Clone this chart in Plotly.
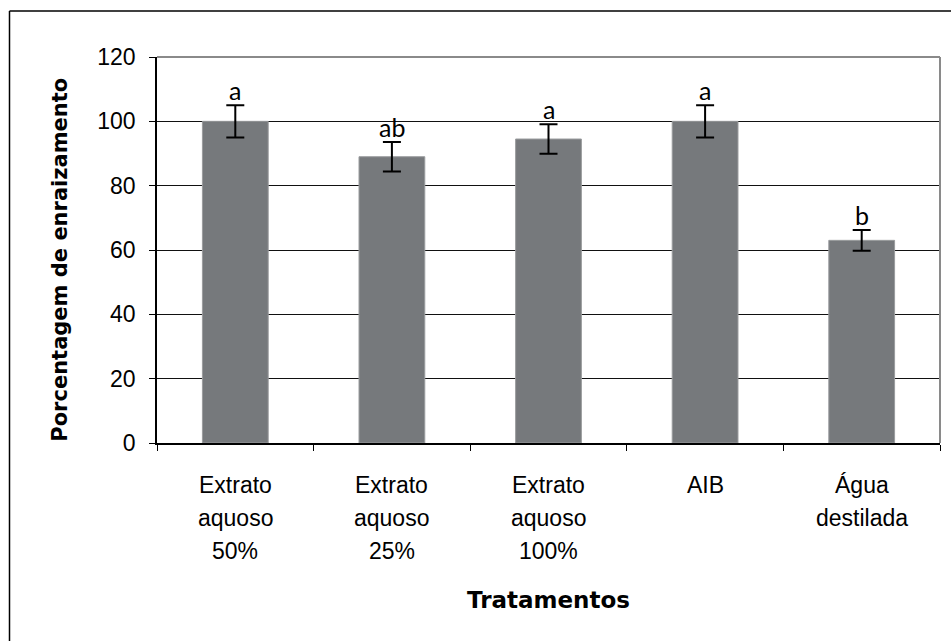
import plotly.graph_objects as go

# Rooting percentage per treatment, with standard error and significance letters
tratamentos = [
    ["Extrato", "aquoso", "50%"],
    ["Extrato", "aquoso", "25%"],
    ["Extrato", "aquoso", "100%"],
    ["AIB"],
    ["Água", "destilada"],
]
categorias = ["Extrato aquoso 50%", "Extrato aquoso 25%", "Extrato aquoso 100%", "AIB", "Água destilada"]
enraizamento = [100, 89, 94.5, 100, 63]
erro = [5, 4.6, 4.6, 5, 3.2]
letras = ["a", "ab", "a", "a", "b"]
y_ticks = [0, 20, 40, 60, 80, 100, 120]

W, H = 951, 641
L, R, T, B = 157, 11, 57, 198
pw, ph = W - L - R, H - T - B

def px_x(px):
    return (px - L) / pw

def px_y(py):
    return (H - B - py) / ph

fig = go.Figure()
fig.add_trace(go.Bar(
    x=categorias,
    y=enraizamento,
    marker=dict(color="#76797c", line=dict(color="#9a9c9e", width=1)),
    error_y=dict(type="data", array=erro, visible=True, color="black", thickness=2, width=9),
    showlegend=False,
))

annotations = []
# significance letters above the error bars
for c, v, e, s in zip(categorias, enraizamento, erro, letras):
    annotations.append(dict(
        x=c, y=v + e, xref="x", yref="y", text=s, showarrow=False,
        yanchor="bottom", yshift=-2,
        font=dict(family="Lato", size=25, color="black"),
    ))

# category labels, one annotation per line
line_shifts = [-27, -60, -93]
for c, lines in zip(categorias, tratamentos):
    for i, t in enumerate(lines):
        annotations.append(dict(
            x=c, y=0, xref="x", yref="paper", text=t, showarrow=False,
            yanchor="top", yshift=line_shifts[i],
            font=dict(family="Liberation Sans", size=23, color="black"),
        ))

annotations.append(dict(
    x=0.5, y=0, xref="paper", yref="paper", text="<b>Tratamentos</b>", showarrow=False,
    yanchor="top", yshift=-142,
    font=dict(family="DejaVu Sans", size=23, color="black"),
))
annotations.append(dict(
    x=px_x(59.7), y=px_y(260), xref="paper", yref="paper",
    text="<b>Porcentagem de enraizamento</b>", textangle=-90, showarrow=False,
    xanchor="center", yanchor="middle",
    font=dict(family="DejaVu Sans", size=21, color="black"),
))

shapes = [
    # outer frame (left and top edges)
    dict(type="line", xref="paper", yref="paper", x0=px_x(9.5), x1=px_x(9.5), y0=px_y(11), y1=-0.7,
         line=dict(color="black", width=1.5)),
    dict(type="line", xref="paper", yref="paper", x0=px_x(9.5), x1=1.2, y0=px_y(11), y1=px_y(11),
         line=dict(color="black", width=1.5)),
    # plot area border (top and right)
    dict(type="line", xref="paper", yref="paper", x0=0, x1=1, y0=1, y1=1,
         line=dict(color="#8a8a8a", width=2), layer="above"),
    dict(type="line", xref="paper", yref="paper", x0=1, x1=1, y0=0, y1=1,
         line=dict(color="#8a8a8a", width=2), layer="above"),
]

fig.update_layout(
    width=W, height=H,
    margin=dict(l=L, r=R, t=T, b=B, pad=0),
    paper_bgcolor="white", plot_bgcolor="white",
    bargap=0.58,
    annotations=annotations,
    shapes=shapes,
    font=dict(family="Liberation Sans", color="black"),
)
fig.update_xaxes(
    type="category", range=[-0.5, 4.5], showticklabels=False,
    tickson="boundaries", ticks="outside", ticklen=6, tickcolor="black", tickwidth=1,
    showline=True, linecolor="black", linewidth=1.5, showgrid=False, zeroline=False,
)
fig.update_yaxes(
    range=[0, 120], tickvals=y_ticks, ticktext=[str(v) for v in y_ticks],
    ticks="outside", ticklen=6, tickcolor="black", tickwidth=1,
    tickfont=dict(family="Liberation Sans", size=23, color="black"),
    ticklabelstandoff=9,
    showline=True, linecolor="black", linewidth=1.5,
    showgrid=True, gridcolor="#111111", gridwidth=1, zeroline=False,
)

fig.write_html("out.html")
